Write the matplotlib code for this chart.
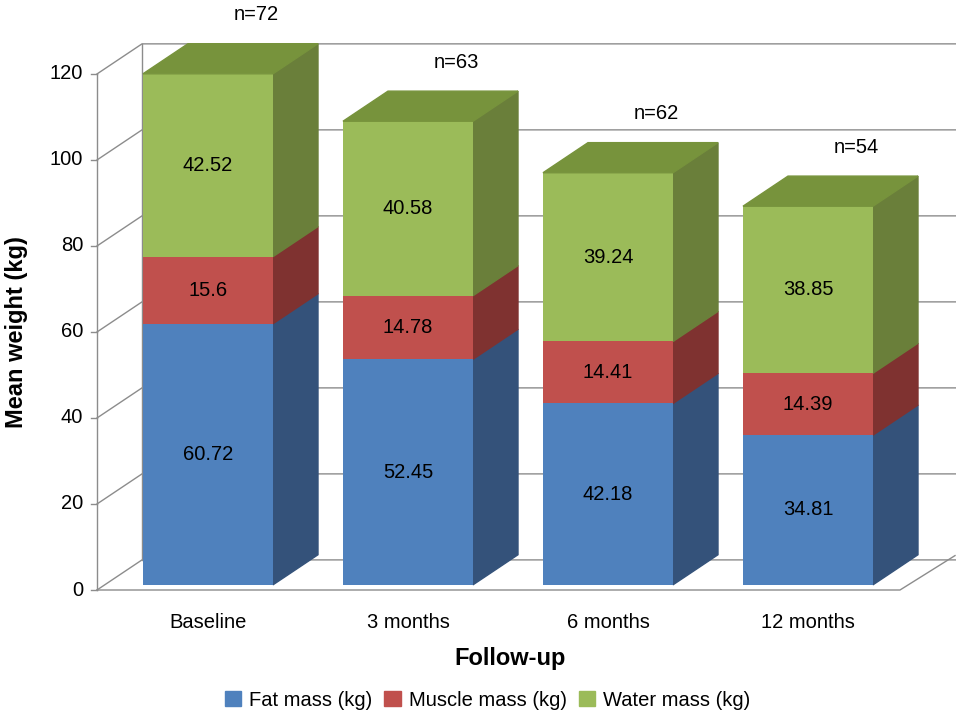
import numpy as np
import matplotlib.pyplot as plt
from matplotlib.patches import Polygon, Patch

plt.rcParams['font.family'] = ['Liberation Sans', 'DejaVu Sans']

categories = ['Baseline', '3 months', '6 months', '12 months']
fat = [60.72, 52.45, 42.18, 34.81]
muscle = [15.6, 14.78, 14.41, 14.39]
water = [42.52, 40.58, 39.24, 38.85]
n_labels = ['n=72', 'n=63', 'n=62', 'n=54']
yticks = [0, 20, 40, 60, 80, 100, 120]

series = [
    ('Fat mass (kg)', fat, '#4F81BD', '#34527A'),
    ('Muscle mass (kg)', muscle, '#C0504D', '#7F3230'),
    ('Water mass (kg)', water, '#9BBB59', '#6A7F3A'),
]
top_color = '#77933C'

DX, DY = 0.225, 7.0
W = 0.65
X0, X1 = -0.555, 3.74
BASE = 1.2  # bars sit slightly above the front floor edge
FS = 14.5

fig = plt.figure(figsize=(9.56, 7.13), dpi=100)
ax = fig.add_axes([97 / 956, 123 / 713, 859 / 956, 590 / 713])
ax.set_xlim(X0, X1)
ax.set_ylim(0, 137.2)
ax.axis('off')

gc = '#8C8C8C'
for v in yticks:
    ax.plot([X0, X0 + DX, X1], [v, v + DY, v + DY], color=gc, lw=1, clip_on=False)
    ax.plot([X0 - 0.03, X0], [v, v], color=gc, lw=1, clip_on=False)
    ax.text(X0 - 0.07, v, str(v), ha='right', va='center', fontsize=FS)
ax.plot([X0, X0], [0, 120], color=gc, lw=1, clip_on=False)
ax.plot([X0 + DX, X0 + DX], [DY, 120 + DY], color=gc, lw=1, clip_on=False)
fx = 3.46
ax.plot([X0, fx, fx + DX + 0.05], [0, 0, DY + 1], color=gc, lw=1, clip_on=False)

x = np.arange(len(categories))
bottom = np.full(len(categories), BASE)
for name, vals, c, side in series:
    vals = np.array(vals)
    ax.bar(x, vals, W, bottom=bottom, color=c, zorder=3)
    for i in range(len(x)):
        b, t = bottom[i], bottom[i] + vals[i]
        r = x[i] + W / 2
        ax.add_patch(Polygon([(r, b), (r + DX, b + DY), (r + DX, t + DY), (r, t)],
                             closed=True, color=side, zorder=2))
        ax.text(x[i], (b + t) / 2, f'{vals[i]:g}', ha='center', va='center', fontsize=FS, zorder=5)
    bottom = bottom + vals

for i in range(len(x)):
    t = bottom[i]
    l, r = x[i] - W / 2, x[i] + W / 2
    ax.add_patch(Polygon([(l, t), (r, t), (r + DX, t + DY), (l + DX, t + DY)],
                         closed=True, color=top_color, zorder=4))
    ax.text(x[i] + 0.24, t + DY + 4.5, n_labels[i], ha='center', va='bottom', fontsize=FS)
    ax.text(x[i], -7.5, categories[i], ha='center', va='center', fontsize=FS)

ax.text(1.51, -16, 'Follow-up', ha='center', va='center', fontsize=17, fontweight='bold')
ax.text(X0 - 0.4, 60, 'Mean weight (kg)', ha='center', va='center', rotation=90,
        fontsize=17, fontweight='bold')

handles = [Patch(color=c, label=name) for name, _, c, _ in series]
fig.legend(handles=handles, loc='center', bbox_to_anchor=(0.51, 0.018), ncol=3,
           frameon=False, fontsize=FS, handlelength=0.8, handleheight=0.8,
           columnspacing=0.6, handletextpad=0.4)

fig.savefig('out.png', dpi=100)
